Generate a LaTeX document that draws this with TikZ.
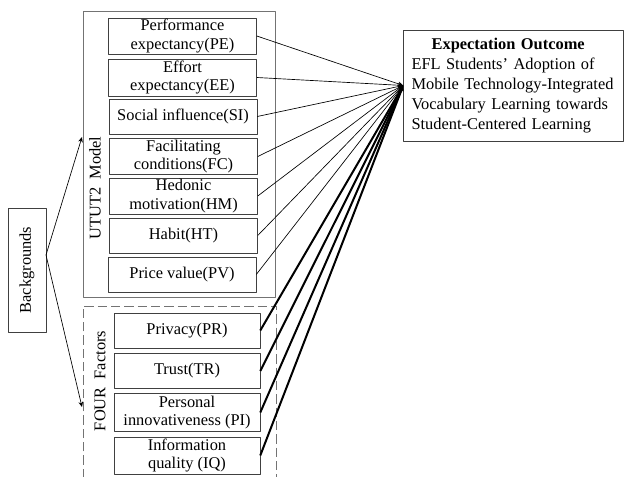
\documentclass[tikz,border=0pt]{standalone}
\usepackage{fontspec}
\setmainfont{Liberation Serif}
\usetikzlibrary{arrows.meta}
\tikzset{
  txt/.style={font=\fontsize{12.3}{13.8}\selectfont},
  factor/.style={txt,draw=black!75,align=center,minimum width=111pt,minimum height=26pt,inner sep=1pt},
  group/.style={draw=black!55,minimum width=144pt},
  link/.style={-{Stealth[length=4pt,width=3.5pt]},line width=0.5pt},
  strong/.style={link,line width=1.5pt}
}
\begin{document}
\begin{tikzpicture}[x=0.75pt,y=-0.75pt,line join=round]
    \useasboundingbox (0,0) rectangle (625,477);
    \node[group,minimum height=214.5pt] (utut) at (179,154) {};
    \draw[black!55,dash pattern=on 7pt off 3pt] (83,478) |- (276,306) -- (276,478);
    \node[txt,rotate=90] (uttitle) at (95,188) {UTUT2\ \ Model};
    \node[txt,rotate=90] (fftitle) at (100,381) {FOUR\ \ Factors};
    \node[factor] (pe) at (182.5,36) {Performance\\expectancy(PE)};
    \node[factor,minimum height=27.5pt] (ee) at (182.5,77.5) {Effort\\expectancy(EE)};
    \node[factor] (si) at (183,116.5) {Social influence(SI)};
    \node[factor] (fc) at (183.5,156.5) {Facilitating\\conditions(FC)};
    \node[factor] (hm) at (183.5,196) {Hedonic\\motivation(HM)};
    \node[factor] (ht) at (183.5,235.5) {Habit(HT)};
    \node[factor] (pv) at (182,274.5) {Price value(PV)};
    \node[factor,minimum width=109.5pt] (pr) at (187,330.5) {Privacy(PR)};
    \node[factor,minimum width=109.5pt] (tr) at (187,371) {Trust(TR)};
    \node[factor,minimum width=109.5pt,minimum height=28.5pt] (pi) at (187,412.5) {Personal\\innovativeness (PI)};
    \node[factor,minimum width=109.5pt,minimum height=28pt] (iq) at (187,455.5) {Information\\quality (IQ)};
    \node[txt,draw=black!75,rotate=90,minimum width=93pt,minimum height=28.5pt] (bg) at (27,270) {Backgrounds};
    \node[draw=black!75,text width=153pt,inner xsep=6pt,minimum height=83pt,align=left,
          font=\fontsize{12.3}{15}\selectfont] (out) at (513.5,85.5)
          {\makebox[145pt][c]{\textbf{Expectation Outcome}}\\EFL Students’ Adoption of\\Mobile Technology-Integrated\\Vocabulary Learning towards\\Student-Centered Learning};
    \coordinate (bgout) at (46,255);
    \coordinate (uin) at (82,137);
    \coordinate (fin) at (82,407);
    \draw[link] (bgout) -- (uin);
    \draw[link] (bgout) -- (fin);
    \draw[link] (pe.east) -- (out.west);
    \draw[link] (ee.east) -- (out.west);
    \draw[link] (si.east) -- (out.west);
    \draw[link] (fc.east) -- (out.west);
    \draw[link] (hm.east) -- (out.west);
    \draw[link] (ht.east) -- (out.west);
    \draw[link] (pv.east) -- (out.west);
    \draw[strong] (pr.east) -- (out.west);
    \draw[strong] (tr.east) -- (out.west);
    \draw[strong] (pi.east) -- (out.west);
    \draw[strong] (iq.east) -- (out.west);
\end{tikzpicture}
\end{document}
